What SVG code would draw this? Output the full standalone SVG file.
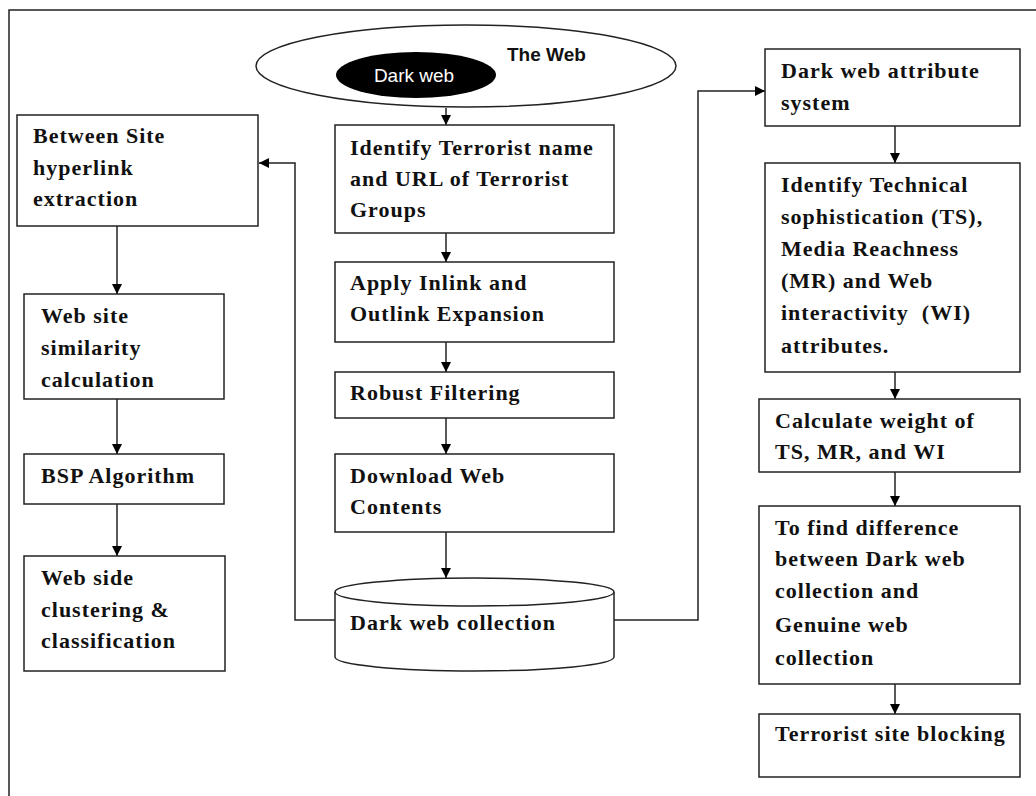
<svg xmlns="http://www.w3.org/2000/svg" width="1036" height="796" viewBox="0 0 1036 796">
<defs>
<marker id="ah" viewBox="0 0 10 10" refX="10" refY="5" markerWidth="10" markerHeight="10" markerUnits="userSpaceOnUse" orient="auto">
<path d="M0,0 L10,5 L0,10 z" fill="#000"/>
</marker>
<style>
.box{fill:#fff;stroke:#222;stroke-width:1.5}
.t{font-family:"Liberation Serif",serif;font-weight:bold;font-size:22px;letter-spacing:1px;fill:#111}
.s{font-family:"Liberation Sans",sans-serif;font-size:19px}
.c{fill:none;stroke:#222;stroke-width:1.5;marker-end:url(#ah)}
.l{fill:none;stroke:#222;stroke-width:1.5}
</style>
</defs>
<rect width="1036" height="796" fill="#fff"/>
<path class="l" d="M9,796 V10 H1036"/>

<g id="connectors">
<line class="c" x1="446" y1="108" x2="446" y2="125"/>
<line class="c" x1="446" y1="233" x2="446" y2="262"/>
<line class="c" x1="446" y1="342" x2="446" y2="372"/>
<line class="c" x1="446" y1="418" x2="446" y2="454"/>
<line class="c" x1="446" y1="532" x2="446" y2="578"/>
<path class="c" d="M335,620 H295 V163 H259"/>
<path class="c" d="M614,620 H698 V91 H765"/>
<line class="c" x1="117" y1="226" x2="117" y2="294"/>
<line class="c" x1="117" y1="399" x2="117" y2="454"/>
<line class="c" x1="117" y1="504" x2="117" y2="556"/>
<line class="c" x1="895" y1="126" x2="895" y2="163"/>
<line class="c" x1="895" y1="372" x2="895" y2="399"/>
<line class="c" x1="895" y1="472" x2="895" y2="506"/>
<line class="c" x1="895" y1="684" x2="895" y2="714"/>
</g>

<g id="the-web">
<ellipse cx="466" cy="66" rx="210" ry="41" fill="#fff" stroke="#222" stroke-width="1.5"/>
<text class="s" x="507" y="61" fill="#111" font-weight="bold" font-size="18">The Web</text>
</g>
<g id="dark-web">
<ellipse cx="416" cy="75" rx="80" ry="23" fill="#000"/>
<text class="s" x="414" y="82" fill="#fff" text-anchor="middle">Dark web</text>
</g>

<g id="identify-terrorist">
<rect class="box" x="335" y="125" width="279" height="108"/>
<text class="t" x="350" y="155">Identify Terrorist name</text>
<text class="t" x="350" y="186">and URL of Terrorist</text>
<text class="t" x="350" y="217">Groups</text>
</g>
<g id="apply-inlink">
<rect class="box" x="335" y="262" width="279" height="80"/>
<text class="t" x="350" y="290">Apply Inlink and</text>
<text class="t" x="350" y="321">Outlink Expansion</text>
</g>
<g id="robust-filtering">
<rect class="box" x="335" y="372" width="279" height="46"/>
<text class="t" x="350" y="400">Robust Filtering</text>
</g>
<g id="download">
<rect class="box" x="335" y="454" width="279" height="78"/>
<text class="t" x="350" y="483">Download Web</text>
<text class="t" x="350" y="514">Contents</text>
</g>
<g id="dark-web-collection">
<path d="M335,592 V657 A139.5,14 0 0 0 614,657 V592" fill="#fff" stroke="#222" stroke-width="1.5"/>
<ellipse cx="474.5" cy="592" rx="139.5" ry="14" fill="#fff" stroke="#222" stroke-width="1.5"/>
<text class="t" x="350" y="630">Dark web collection</text>
</g>

<g id="between-site">
<rect class="box" x="17" y="115" width="241" height="111"/>
<text class="t" x="33" y="143">Between Site</text>
<text class="t" x="33" y="175">hyperlink</text>
<text class="t" x="33" y="206">extraction</text>
</g>
<g id="similarity">
<rect class="box" x="24" y="294" width="200" height="105"/>
<text class="t" x="41" y="323">Web site</text>
<text class="t" x="41" y="355">similarity</text>
<text class="t" x="41" y="387">calculation</text>
</g>
<g id="bsp">
<rect class="box" x="24" y="454" width="200" height="50"/>
<text class="t" x="41" y="483">BSP Algorithm</text>
</g>
<g id="clustering">
<rect class="box" x="24" y="556" width="201" height="115"/>
<text class="t" x="41" y="585">Web side</text>
<text class="t" x="41" y="617">clustering &amp;</text>
<text class="t" x="41" y="648">classification</text>
</g>

<g id="attribute-system">
<rect class="box" x="765" y="49" width="255" height="77"/>
<text class="t" x="781" y="78">Dark web attribute</text>
<text class="t" x="781" y="110">system</text>
</g>
<g id="identify-technical">
<rect class="box" x="765" y="163" width="255" height="209"/>
<text class="t" x="781" y="192">Identify Technical</text>
<text class="t" x="781" y="224">sophistication (TS),</text>
<text class="t" x="781" y="256">Media Reachness</text>
<text class="t" x="781" y="288">(MR) and Web</text>
<text class="t" x="781" y="320" xml:space="preserve">interactivity  (WI)</text>
<text class="t" x="781" y="353">attributes.</text>
</g>
<g id="calculate-weight">
<rect class="box" x="759" y="399" width="261" height="73"/>
<text class="t" x="775" y="428">Calculate weight of</text>
<text class="t" x="775" y="459">TS, MR, and WI</text>
</g>
<g id="difference">
<rect class="box" x="759" y="506" width="261" height="178"/>
<text class="t" x="775" y="535">To find difference</text>
<text class="t" x="775" y="566">between Dark web</text>
<text class="t" x="775" y="598">collection and</text>
<text class="t" x="775" y="632">Genuine web</text>
<text class="t" x="775" y="665">collection</text>
</g>
<g id="blocking">
<rect class="box" x="759" y="714" width="261" height="63"/>
<text class="t" x="775" y="741">Terrorist site blocking</text>
</g>
</svg>
